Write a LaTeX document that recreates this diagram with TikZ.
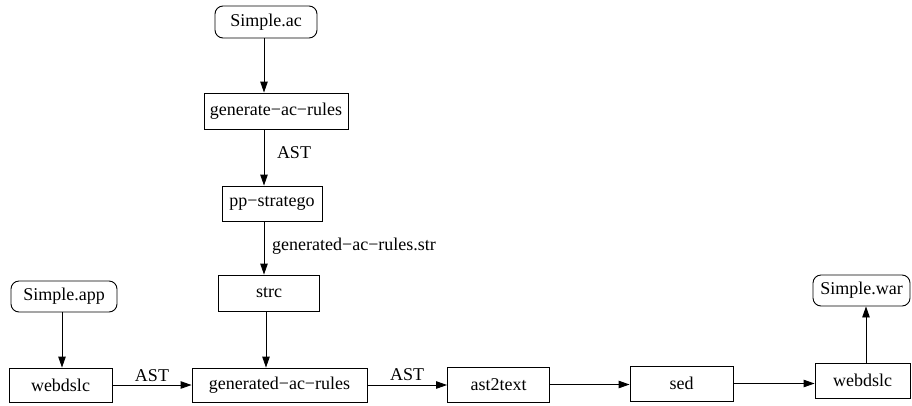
\documentclass[tikz,border=0pt]{standalone}
\usepackage{fontspec}
\setmainfont{Liberation Serif}
\usetikzlibrary{arrows.meta}
\begin{document}
\begin{tikzpicture}[x=1pt,y=-1pt,
  font=\fontsize{18}{20}\selectfont,
  box/.style={draw,line width=0.9pt,inner sep=0pt,rectangle},
  file/.style={box,rounded corners=8pt},
  lbl/.style={inner sep=0pt,anchor=center},
  arr/.style={line width=0.9pt,-{Triangle[length=11pt,width=7.5pt]}}]
\useasboundingbox (0,0) rectangle (912,405);
% nodes
\node[file,minimum width=102pt,minimum height=32pt] (sac) at (266,22) {Simple.ac};
\node[box,minimum width=144pt,minimum height=36pt] (gar) at (276,111) {generate−ac−rules};
\node[box,minimum width=100pt,minimum height=35pt] (pps) at (272,203.5) {pp−stratego};
\node[box,minimum width=101pt,minimum height=36pt] (strc) at (269,293) {strc};
\node[file,minimum width=106pt,minimum height=31pt] (sapp) at (64,296.5) {Simple.app};
\node[box,minimum width=103pt,minimum height=34pt] (wd1) at (60.5,385) {webdslc};
\node[box,minimum width=175pt,minimum height=34pt] (gen) at (279.5,385) {generated−ac−rules};
\node[box,minimum width=102pt,minimum height=35pt] (a2t) at (498.5,384.5) {ast2text};
\node[box,minimum width=103pt,minimum height=35pt] (sed) at (681.5,383.5) {sed};
\node[box,minimum width=95pt,minimum height=35pt] (wd2) at (862.5,380.5) {webdslc};
\node[file,minimum width=97pt,minimum height=31pt] (swar) at (861.5,290.5) {Simple.war};
% labels
\node[lbl] (l1) at (294,153) {AST};
\node[lbl,anchor=west] (l2) at (272,246) {generated−ac−rules.str};
\node[lbl] (l3) at (152,376) {AST};
\node[lbl] (l4) at (407,375) {AST};
% column coordinates
\coordinate (c1) at (264,0);
\coordinate (c2) at (266,0);
\coordinate (c3) at (62,0);
\coordinate (c4) at (866,0);
% connectors
\draw[arr] (sac.south -| c1) -- (gar.north -| c1);
\draw[arr] (gar.south -| c1) -- (pps.north -| c1);
\draw[arr] (pps.south -| c1) -- (strc.north -| c1);
\draw[arr] (strc.south -| c2) -- (gen.north -| c2);
\draw[arr] (sapp.south -| c3) -- (wd1.north -| c3);
\draw[arr] (wd1.east) -- (gen.west |- wd1.east);
\draw[arr] (gen.east) -- (a2t.west |- gen.east);
\draw[arr] (a2t.east) -- (sed.west |- a2t.east);
\draw[arr] (sed.east) -- (wd2.west |- sed.east);
\draw[arr] (wd2.north -| c4) -- (swar.south -| c4);
\end{tikzpicture}
\end{document}
